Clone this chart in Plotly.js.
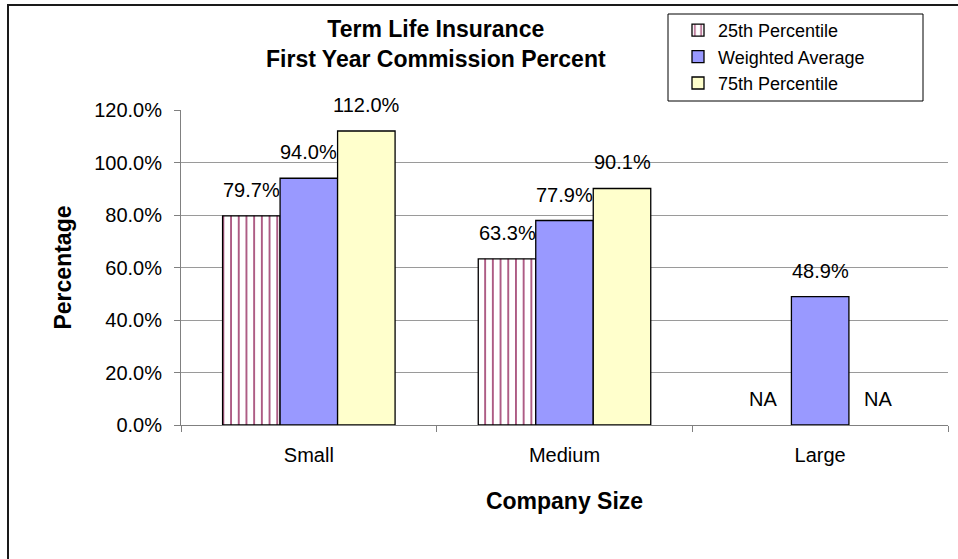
<!DOCTYPE html>
<html>
<head>
<meta charset="utf-8">
<script src="https://cdn.plot.ly/plotly-3.0.1.min.js"></script>
<style>html,body{margin:0;padding:0;background:#fff;}#chart{width:958px;height:559px;}</style>
</head>
<body>
<div id="chart"></div>
<script>
var categories = ['Small', 'Medium', 'Large'];
var seriesNames = ['25th Percentile', 'Weighted Average', '75th Percentile'];
var p25 = [79.7, 63.3, null];
var wavg = [94.0, 77.9, 48.9];
var p75 = [112.0, 90.1, null];
var yTicks = [0, 20, 40, 60, 80, 100, 120];
var naLabel = 'NA';
var titleText = 'Term Life Insurance<br>First Year Commission Percent';

var FONT = 'Liberation Sans, Arial, sans-serif';
var allSeries = [p25, wavg, p75];
var colors = ['#ffffff', '#9999ff', '#ffffcc'];

var traces = allSeries.map(function (vals, k) {
  var marker = { color: colors[k], line: { color: '#000000', width: 1.3 } };
  if (k === 0) {
    marker.pattern = { shape: '|', fgcolor: '#993366', bgcolor: '#ffffff', size: 7.7, solidity: 0.2 };
  }
  return { type: 'bar', name: seriesNames[k], x: categories, y: vals, marker: marker, hoverinfo: 'skip' };
});

// plot area in px: x 181..948, y 110..425
function px2x(px) { return (px - 181) / 767; }
function px2y(py) { return (425 - py) / 315; }

var bargap = 0.3253;
var barW = (1 - bargap) / 3;
var annotations = [];
allSeries.forEach(function (vals, k) {
  vals.forEach(function (v, i) {
    annotations.push({
      x: i + (k - 1) * barW, y: v === null ? 0 : v, xref: 'x', yref: 'y',
      text: v === null ? naLabel : v.toFixed(1) + '%',
      showarrow: false, yanchor: 'bottom', yshift: 13,
      font: { family: FONT, size: 20, color: '#000' }
    });
  });
});
annotations.push({
  x: px2x(436), y: px2y(14), xref: 'paper', yref: 'paper',
  xanchor: 'center', yanchor: 'top', showarrow: false,
  text: '<b>' + titleText + '</b>',
  font: { family: FONT, size: 23, color: '#000' }
});

var layout = {
  width: 958, height: 559,
  margin: { l: 181, r: 10, t: 110, b: 134 },
  paper_bgcolor: '#ffffff', plot_bgcolor: '#ffffff',
  font: { family: FONT, size: 20, color: '#000' },
  barmode: 'group', bargap: bargap, bargroupgap: 0,
  showlegend: true,
  legend: {
    x: px2x(668), y: px2y(12), xanchor: 'left', yanchor: 'top',
    bgcolor: 'rgba(0,0,0,0)', borderwidth: 0,
    font: { family: FONT, size: 18, color: '#000' },
    traceorder: 'normal', indentation: 10, tracegroupgap: 0
  },
  xaxis: {
    type: 'category', showgrid: false, zeroline: false,
    showline: true, linecolor: '#808080', linewidth: 1,
    ticks: 'outside', tickson: 'boundaries', ticklen: 6, tickcolor: '#808080',
    ticklabelstandoff: 12,
    tickfont: { family: FONT, size: 20, color: '#000' },
    title: { text: '<b>Company Size</b>', font: { family: FONT, size: 23, color: '#000' }, standoff: 27 },
    fixedrange: true
  },
  yaxis: {
    range: [0, 120], tickvals: yTicks, ticktext: yTicks.map(function (t) { return t.toFixed(1) + '%'; }),
    showgrid: true, gridcolor: '#9a9a9a', gridwidth: 1, zeroline: false,
    showline: true, linecolor: '#808080', linewidth: 1,
    ticks: 'outside', ticklen: 6, tickcolor: '#808080',
    ticklabelstandoff: 8,
    tickfont: { family: FONT, size: 20, color: '#000' },
    title: { text: '<b>Percentage</b>', font: { family: FONT, size: 23, color: '#000' }, standoff: 16 },
    fixedrange: true
  },
  annotations: annotations,
  shapes: [{
    type: 'rect', xref: 'paper', yref: 'paper',
    x0: px2x(8), x1: 1.2, y0: -0.8, y1: px2y(5),
    line: { color: '#1a1a1a', width: 2 }, fillcolor: 'rgba(0,0,0,0)', layer: 'above'
  }, {
    type: 'rect', xref: 'paper', yref: 'paper',
    x0: px2x(668), x1: px2x(923), y0: px2y(101), y1: px2y(14),
    line: { color: '#000000', width: 1 }, fillcolor: '#ffffff', layer: 'below'
  }]
};

Plotly.newPlot('chart', traces, layout, { displayModeBar: false, staticPlot: true });
</script>
</body>
</html>
